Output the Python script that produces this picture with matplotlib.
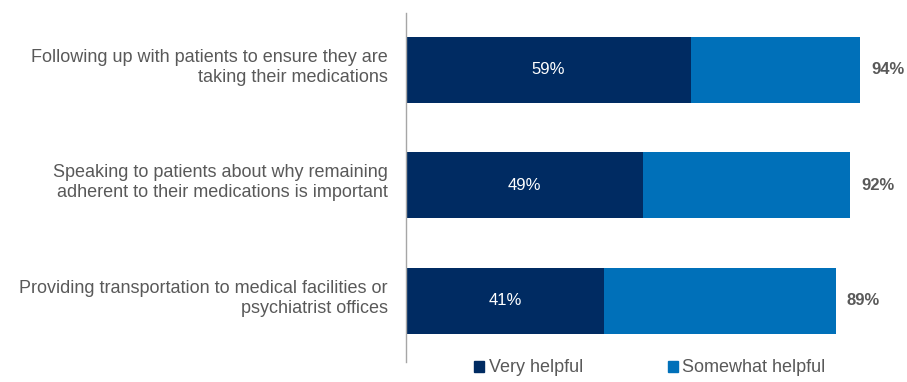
import matplotlib.pyplot as plt
from matplotlib.patches import Patch
from matplotlib.transforms import ScaledTranslation

plt.rcParams['font.family'] = ['Liberation Sans', 'DejaVu Sans']

categories = ['Following up with patients to ensure they are\ntaking their medications',
              'Speaking to patients about why remaining\nadherent to their medications is important',
              'Providing transportation to medical facilities or\npsychiatrist offices']
very = [59, 49, 41]
total = [94, 92, 89]
somewhat = [t - v for t, v in zip(total, very)]

dark = '#002b62'
mid = '#0070b9'
grey = '#595959'

fig = plt.figure(figsize=(9.07, 3.82), dpi=100)
ax = fig.add_axes([406 / 907, (382 - 362) / 382, (889 - 406) / 907, (362 - 13) / 382])

y = range(len(categories))
ax.barh(y, very, height=0.57, color=dark)
ax.barh(y, somewhat, left=very, height=0.57, color=mid)

for i in y:
    ax.text(very[i] / 2, i, f'{very[i]}%', color='white', ha='center', va='center', fontsize=12)
    ax.text(total[i] + 2.3, i, f'{total[i]}%', color=grey, ha='left', va='center',
            fontsize=12, fontweight='bold')

ax.set_xlim(0, 100)
ax.set_ylim(2.53, -0.49)
ax.set_yticks(list(y))
ax.set_yticklabels(categories, fontsize=13, color=grey, ha='right', linespacing=1.25)
ax.tick_params(axis='y', length=0, pad=13)
# category labels sit a little above the bar centres
shift = ScaledTranslation(0, 0.06, fig.dpi_scale_trans)
for lbl in ax.get_yticklabels():
    lbl.set_transform(lbl.get_transform() + shift)
ax.set_xticks([])
for s in ['top', 'right', 'bottom']:
    ax.spines[s].set_visible(False)
ax.spines['left'].set_color('#a6a6a6')
ax.spines['left'].set_linewidth(1)

handles = [Patch(color=dark, label='Very helpful'), Patch(color=mid, label='Somewhat helpful')]
leg = fig.legend(handles=handles, loc='center', bbox_to_anchor=(650 / 907, 14 / 382), ncol=2,
                 frameon=False, fontsize=13, handlelength=0.55, handleheight=0.55,
                 handletextpad=0.25, columnspacing=4.7)
for t in leg.get_texts():
    t.set_color(grey)

fig.savefig('out.png', dpi=100)
